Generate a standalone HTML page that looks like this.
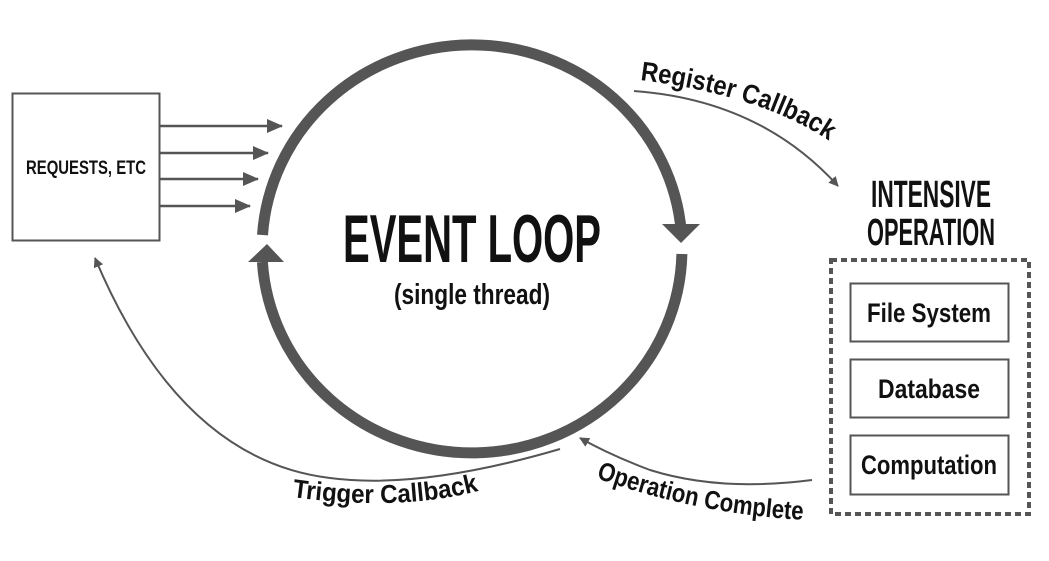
<!DOCTYPE html>
<html><head><meta charset="utf-8"><style>
html,body{margin:0;padding:0;background:#fff;}
svg{display:block;}
text{font-family:"Liberation Sans Narrow","Liberation Sans",sans-serif;fill:#111;}
</style></head><body>
<svg width="1049" height="561" viewBox="0 0 1049 561" xmlns="http://www.w3.org/2000/svg">
<defs>
<marker id="ah" markerWidth="10" markerHeight="10" refX="9" refY="5" orient="auto" markerUnits="userSpaceOnUse"><path d="M0,0 L10,5 L0,10 Z" fill="#555"/></marker>
<marker id="ah2" markerWidth="16" markerHeight="14" refX="15" refY="7" orient="auto" markerUnits="userSpaceOnUse"><path d="M0,0 L16,7 L0,14 Z" fill="#555"/></marker>
<path id="p1" d="M640,80 Q760,95 828,140"/>
<path id="p2" d="M596,478 Q700,515 808,520"/>
<path id="p3" d="M292,497 Q400,512 482,490"/>
</defs>
<rect x="12.5" y="93.5" width="147" height="147" fill="none" stroke="#555" stroke-width="2"/>
<text x="86" y="174" font-size="19" font-weight="bold" text-anchor="middle" textLength="120" lengthAdjust="spacingAndGlyphs">REQUESTS, ETC</text>
<g stroke="#555" stroke-width="2.5">
<line x1="160" y1="126" x2="282" y2="126" marker-end="url(#ah2)"/>
<line x1="160" y1="153" x2="268" y2="153" marker-end="url(#ah2)"/>
<line x1="160" y1="179" x2="258" y2="179" marker-end="url(#ah2)"/>
<line x1="160" y1="206" x2="250" y2="206" marker-end="url(#ah2)"/>
</g>
<path d="M262.5,235 A210,204 0 0 1 681.3,232" fill="none" stroke="#555" stroke-width="11"/>
<path d="M681.9,254 A210,204 0 0 1 262.4,262" fill="none" stroke="#555" stroke-width="11"/>
<path d="M662,224 L700,224 L681,243 Z" fill="#555"/>
<path d="M248,262 L284,262 L267,244 Z" fill="#555"/>
<text x="472" y="262" font-size="68" font-weight="bold" text-anchor="middle" textLength="258" lengthAdjust="spacingAndGlyphs">EVENT LOOP</text>
<text x="472" y="304" font-size="29" font-weight="bold" text-anchor="middle" textLength="156" lengthAdjust="spacingAndGlyphs">(single thread)</text>
<path d="M634,91 Q760,100 838,186" fill="none" stroke="#555" stroke-width="2" marker-end="url(#ah)"/>
<text font-size="27" font-weight="bold"><textPath href="#p1" textLength="200" lengthAdjust="spacingAndGlyphs">Register Callback</textPath></text>
<text x="931" y="207" font-size="38" font-weight="bold" text-anchor="middle" textLength="120" lengthAdjust="spacingAndGlyphs">INTENSIVE</text>
<text x="931" y="245" font-size="38" font-weight="bold" text-anchor="middle" textLength="128" lengthAdjust="spacingAndGlyphs">OPERATION</text>
<rect x="831" y="260" width="198" height="254" fill="none" stroke="#555" stroke-width="4" stroke-dasharray="6,4"/>
<g fill="none" stroke="#555" stroke-width="2">
<rect x="850.5" y="283.5" width="158" height="58"/>
<rect x="850.5" y="359.5" width="158" height="58"/>
<rect x="850.5" y="435.5" width="158" height="59"/>
</g>
<text x="929" y="322" font-size="27" font-weight="bold" text-anchor="middle" textLength="124" lengthAdjust="spacingAndGlyphs">File System</text>
<text x="929" y="398" font-size="27" font-weight="bold" text-anchor="middle" textLength="102" lengthAdjust="spacingAndGlyphs">Database</text>
<text x="929" y="474" font-size="27" font-weight="bold" text-anchor="middle" textLength="136" lengthAdjust="spacingAndGlyphs">Computation</text>
<path d="M812,480 Q720,492 650,470 Q610,455 580,438" fill="none" stroke="#555" stroke-width="2" marker-end="url(#ah)"/>
<text font-size="26" font-weight="bold"><textPath href="#p2" textLength="212" lengthAdjust="spacingAndGlyphs">Operation Complete</textPath></text>
<path d="M560,449 Q420,490 330,478 Q180,460 95,258" fill="none" stroke="#555" stroke-width="2" marker-end="url(#ah)"/>
<text font-size="26" font-weight="bold"><textPath href="#p3" textLength="188" lengthAdjust="spacingAndGlyphs">Trigger Callback</textPath></text>
</svg>
</body></html>
